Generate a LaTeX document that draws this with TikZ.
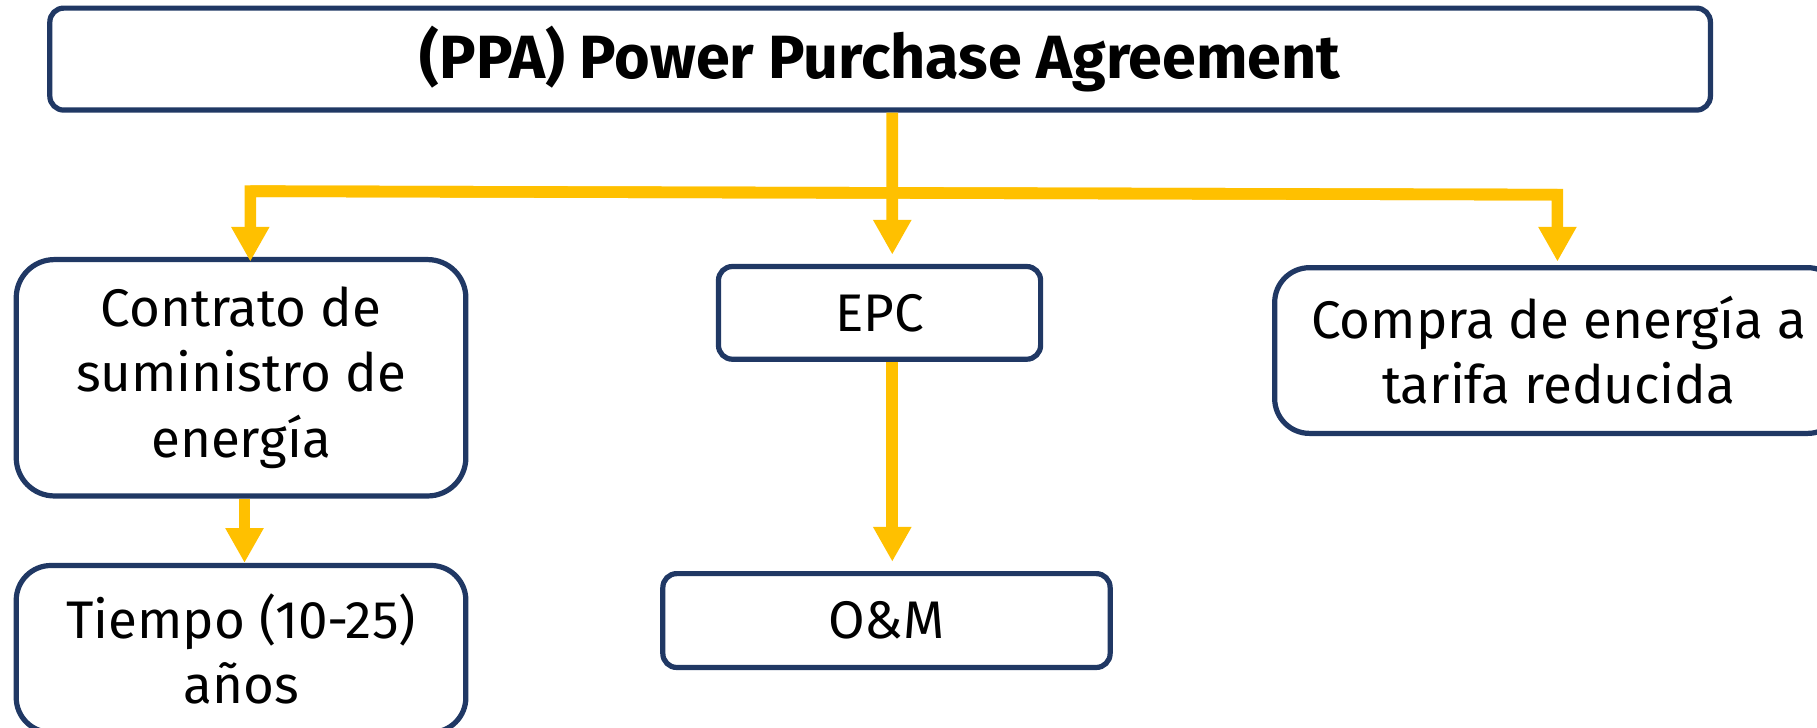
\documentclass[tikz,border=0pt]{standalone}
\usepackage{fontspec}
\setmainfont{Fira Sans}
\usepackage{xcolor}
\usetikzlibrary{arrows.meta, positioning, calc}
\definecolor{navy}{HTML}{203864}
\definecolor{amber}{HTML}{FFC000}
\newcommand{\un}{0.02cm}
\tikzset{
    box/.style={draw=navy, line width=4.5*\un, fill=white, rounded corners=#1, align=center, inner sep=0pt, font=\fontsize{26}{32}\selectfont},
    box/.default={12*\un},
    flow/.style={draw=amber, line width=10*\un, line join=miter, -{Triangle[width=31*\un, length=30*\un]}},
}
\begin{document}
\begin{tikzpicture}[x=\un, y=-\un]
    \useasboundingbox (0,0) rectangle (1568,628);
    % boxes
    \node (ppa) [box, minimum width=1433*\un, minimum height=88*\un, font=\fontsize{30}{34}\selectfont\bfseries] at (759.5,51) {(PPA) Power Purchase Agreement};
    \node (contrato) [box=33*\un, minimum width=388*\un, minimum height=204*\un] at (208,326) {Contrato de\\suministro de\\energía};
    \node (epc) [box, minimum width=278*\un, minimum height=80*\un] at (759,270) {EPC};
    \node (compra) [box=30*\un, minimum width=490*\un, minimum height=143*\un] at (1345,302.5) {Compra de energía a\\tarifa reducida};
    \node (tiempo) [box=30*\un, minimum width=388*\un, minimum height=144*\un] at (208,560) {Tiempo (10-25)\\años};
    \node (om) [box, minimum width=386*\un, minimum height=81*\un] at (765,535.5) {O\&M};
    % bus under the title
    \coordinate (busL) at (216,165);
    \coordinate (busR) at (1344,168);
    \draw[flow] ([xshift=10.5*\un]ppa.south) -- ([xshift=11*\un]epc.north) [shorten >=8*\un];
    \draw[flow] (busR) -- (busL) -- (busL |- contrato.north) [shorten >=-4*\un];
    \draw[flow] (busL) -- (busR) -- (busR |- compra.north) [shorten >=3*\un];
    % second level
    \draw[flow] ([xshift=3*\un]contrato.south) -- ([xshift=3*\un]tiempo.north);
    \draw[flow] ([xshift=11*\un]epc.south) -- ([xshift=5*\un]om.north) [shorten >=8*\un];
\end{tikzpicture}
\end{document}
